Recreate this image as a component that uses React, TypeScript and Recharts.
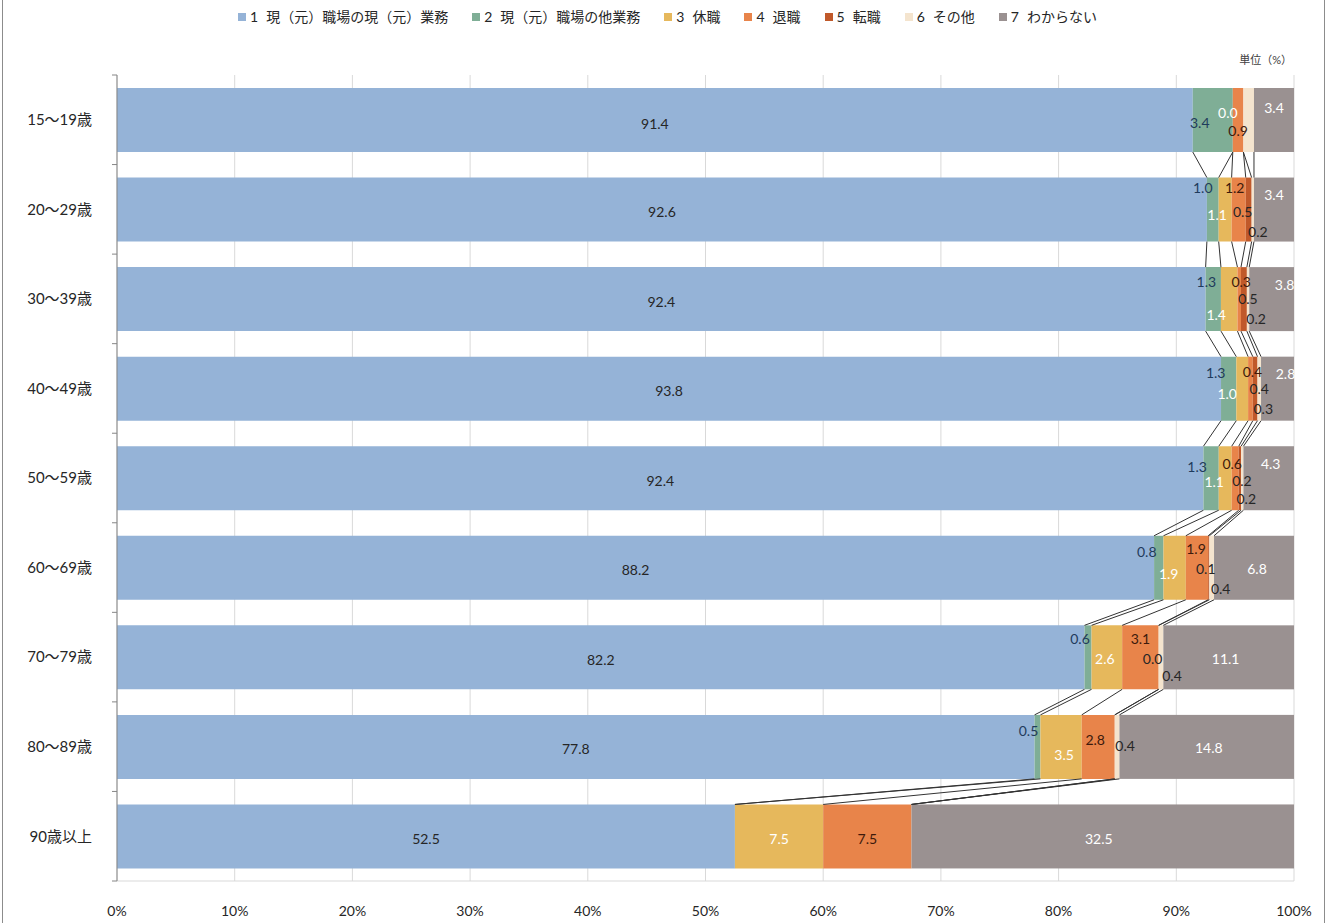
import React from 'react';
import { BarChart, Bar, XAxis, YAxis, CartesianGrid, Legend } from 'recharts';

// ---------- data ----------
const categories = ['15～19歳', '20～29歳', '30～39歳', '40～49歳', '50～59歳', '60～69歳', '70～79歳', '80～89歳', '90歳以上'];
const seriesNames = ['1 現（元）職場の現（元）業務', '2 現（元）職場の他業務', '3 休職', '4 退職', '5 転職', '6 その他', '7 わからない'];
const s1 = [91.4, 92.6, 92.4, 93.8, 92.4, 88.2, 82.2, 77.8, 52.5];
const s2 = [3.4, 1.0, 1.3, 1.3, 1.3, 0.8, 0.6, 0.5, 0.0];
const s3 = [0.0, 1.1, 1.4, 1.0, 1.1, 1.9, 2.6, 3.5, 7.5];
const s4 = [0.9, 1.2, 0.3, 0.4, 0.6, 1.9, 3.1, 2.8, 7.5];
const s5 = [0.0, 0.5, 0.5, 0.4, 0.2, 0.1, 0.0, 0.0, 0.0];
const s6 = [0.9, 0.2, 0.2, 0.3, 0.2, 0.4, 0.4, 0.4, 0.0];
const s7 = [3.4, 3.4, 3.8, 2.8, 4.3, 6.8, 11.1, 14.8, 32.5];
const xTicks = [0, 0.1, 0.2, 0.3, 0.4, 0.5, 0.6, 0.7, 0.8, 0.9, 1];
const unitLabel = '単位（%）';

const seriesValues = [s1, s2, s3, s4, s5, s6, s7];
const seriesKeys = ['s1', 's2', 's3', 's4', 's5', 's6', 's7'];

// ---------- styles ----------
const colors = ['#95B3D7', '#7FAE96', '#E6B85C', '#E8844A', '#C0592A', '#F4E4CE', '#9A9191'];
const labelColors = ['#262626', '#1F3B5C', '#FFFFFF', '#3D1A0C', '#262626', '#262626', '#FFFFFF'];
const FONT = "Lato, 'Noto Sans CJK JP', sans-serif";
const PLOT_TOP = 75;
const CAT_GAP = 13;

// label nudges [dx, dy] relative to the segment centre (null = label not shown)
type Nudge = [number, number] | null;
const labelNudges: Nudge[][] = [
  [[0, 3], [-13, 2], [-5, -8], [0, 10], null, null, [0, -13]],
  [[0, 2], [-10, -22], [-8, 5], [-4, -22], [-6, 2], [5, 22], [0, -15]],
  [[0, 2], [-7, -18], [-13, 15], [2, -18], [4, -1], [8, 19], [13, -15]],
  [[0, 2], [-13, -16], [-15, 5], [2, -17], [4, 0], [4, 20], [8, -15]],
  [[0, 2], [-14, -12], [-11, 3], [-3, -15], [2, 2], [4, 20], [2, -15]],
  [[0, 2], [-12, -16], [-6, 6], [-1, -19], [-3, 1], [9, 21], [3, 1]],
  [[0, 2], [-8, -19], [-2, 1], [0, -19], [-6, 1], [11, 18], [-3, 1]],
  [[0, 2], [-9, -16], [3, 8], [-3, -7], null, [8, -1], [2, 1]],
  [[0, 2], null, [0, 2], [0, 2], null, null, [-4, 2]],
];

const data = categories.map((name, i) => {
  const row: Record<string, any> = { name };
  seriesKeys.forEach((k, j) => { row[k] = seriesValues[j][i]; });
  return row;
});

const rowVals = (r: number) => seriesValues.map((s) => s[r]);
const cums = (r: number) => {
  const v = rowVals(r);
  const out = [0];
  v.forEach((x) => out.push(out[out.length - 1] + x));
  return out;
};

function LastShape(props: any) {
  const { x, y, width, height, fill } = props;
  let index: number = props.index;
  if (typeof index !== 'number') index = categories.indexOf(props.payload?.name);
  const c = cums(index);
  const sum = c[7];
  const W = (width * sum) / s7[index];
  const R = x + width;
  const L = R - W;
  const px = (r: number, v: number) => {
    const cc = cums(r);
    return L + (v / cc[7]) * W;
  };
  const elems: any[] = [];
  elems.push(<rect key="r" x={x} y={y} width={width} height={height} fill={fill} />);
  const band = index > 0 ? (y - CAT_GAP - PLOT_TOP) / index : height + 2 * CAT_GAP;
  elems.push(<line key="tk" x1={L - 5} x2={L} y1={y - CAT_GAP} y2={y - CAT_GAP} stroke="#868686" strokeWidth={1} />);
  if (index === categories.length - 1) {
    elems.push(<line key="tkb" x1={L - 5} x2={L} y1={y - CAT_GAP + band} y2={y - CAT_GAP + band} stroke="#868686" strokeWidth={1} />);
  }
  if (index > 0) {
    const pc = cums(index - 1);
    const prevBottom = y - band + height;
    for (let j = 1; j <= 6; j++) {
      elems.push(
        <line key={'sl' + j} x1={px(index - 1, pc[j])} y1={prevBottom} x2={px(index, c[j])} y2={y}
          stroke="#333333" strokeWidth={1} />
      );
    }
  }
  const cy = y + height / 2;
  for (let j = 0; j < 7; j++) {
    const n = labelNudges[index][j];
    if (!n) continue;
    const cx = (px(index, c[j]) + px(index, c[j + 1])) / 2;
    elems.push(
      <text key={'lb' + j} x={cx + n[0]} y={cy + n[1]} textAnchor="middle" dominantBaseline="central"
        fontFamily={FONT} fontSize={14} fill={labelColors[j]}>
        {seriesValues[j][index].toFixed(1)}
      </text>
    );
  }
  return <g>{elems}</g>;
}

const renderLegend = () => (
  <div style={{ position: 'relative', height: 71, width: 1335, fontFamily: FONT, color: '#262626' }}>
    <div style={{ position: 'absolute', top: 4, left: 0, width: 1335, display: 'flex', justifyContent: 'center', fontSize: 14, lineHeight: '18px' }}>
      {seriesNames.map((nm, i) => {
        const sp = nm.indexOf(' ');
        return (
          <div key={i} style={{ display: 'flex', alignItems: 'center', marginLeft: i === 0 ? 0 : 24 }}>
            <span style={{ display: 'inline-block', width: 8, height: 8, background: colors[i], marginRight: 4 }} />
            <span style={{ marginRight: 8 }}>{nm.slice(0, sp)}</span>
            <span>{nm.slice(sp + 1)}</span>
          </div>
        );
      })}
    </div>
    <div style={{ position: 'absolute', top: 47, right: 43, fontSize: 11, color: '#404040' }}>{unitLabel}</div>
  </div>
);

export default function App() {
  return (
    <div style={{ position: 'absolute', left: 0, top: 0, width: 1335, height: 923, background: '#FFFFFF' }}>
      <div style={{ position: 'absolute', left: 2, top: 0, width: 1323, height: 923, borderLeft: '1px solid #8C8C8C', borderRight: '1px solid #8C8C8C', boxSizing: 'border-box' }} />
      <BarChart width={1335} height={923} data={data} layout="vertical" stackOffset="expand"
        barCategoryGap={CAT_GAP} margin={{ top: 4, right: 41, bottom: 8, left: 0 }}>
        <CartesianGrid horizontal={false} vertical stroke="#D9D9D9" />
        <XAxis type="number" domain={[0, 1]} ticks={xTicks} tickFormatter={(v: number) => `${Math.round(v * 100)}%`}
          tickLine={false} axisLine={{ stroke: '#D9D9D9' }} tickMargin={19} height={34}
          tick={{ fontFamily: FONT, fontSize: 14, fill: '#262626' }} />
        <XAxis xAxisId="top" orientation="top" type="number" domain={[0, 1]} tick={false} tickLine={false}
          axisLine={{ stroke: '#D9D9D9' }} height={0} />
        <YAxis type="category" dataKey="name" width={117} tickLine={false} axisLine={{ stroke: '#868686' }}
          tickMargin={19} tick={{ fontFamily: FONT, fontSize: 15, fill: '#262626' }} />
        <Legend verticalAlign="top" content={renderLegend} wrapperStyle={{ left: 0, width: 1335 }} />
        {seriesKeys.map((k, j) => (
          <Bar key={k} dataKey={k} name={seriesNames[j]} stackId="a" fill={colors[j]} isAnimationActive={false}
            shape={j === 6 ? LastShape : undefined} />
        ))}
      </BarChart>
    </div>
  );
}
